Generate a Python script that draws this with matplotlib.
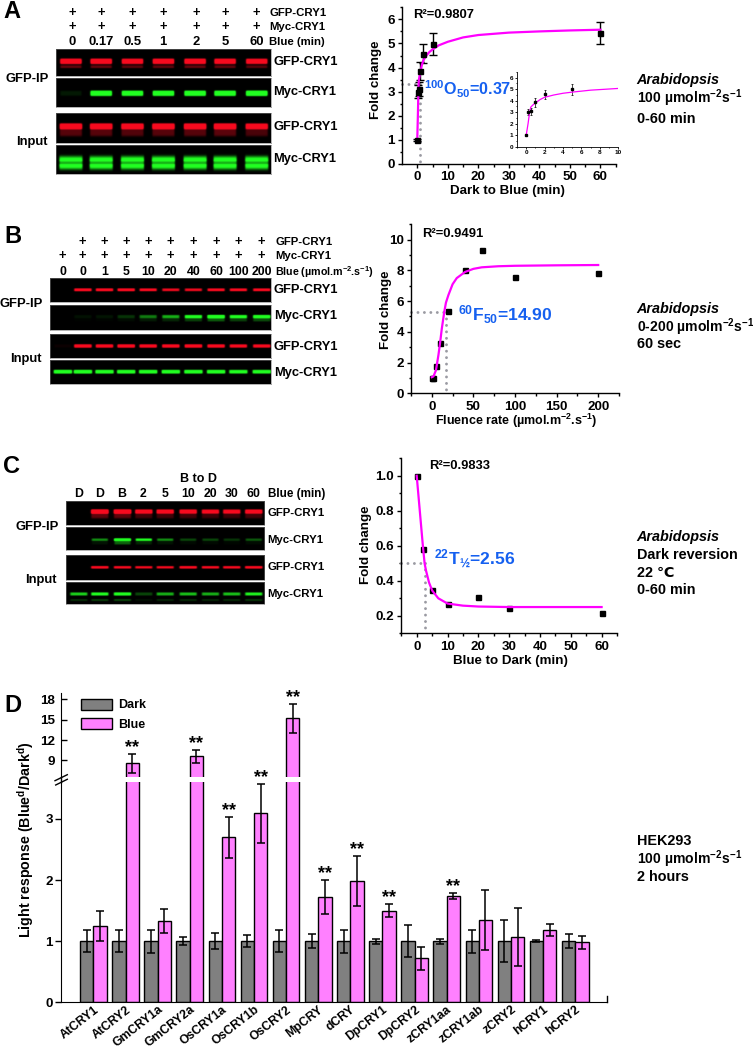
import numpy as np
import matplotlib
matplotlib.use("Agg")
import matplotlib.pyplot as plt
from matplotlib.lines import Line2D
from matplotlib.ticker import MultipleLocator

plt.rcParams['font.family'] = ['Liberation Sans', 'DejaVu Sans', 'Noto Sans CJK SC']
plt.rcParams['font.weight'] = 'bold'
plt.rcParams['axes.labelweight'] = 'bold'
plt.rcParams['mathtext.fontset'] = 'custom'
plt.rcParams['mathtext.rm'] = 'Liberation Sans:bold'
plt.rcParams['mathtext.bf'] = 'Liberation Sans:bold'
plt.rcParams['mathtext.it'] = 'Liberation Sans:italic:bold'
plt.rcParams['mathtext.default'] = 'rm'

# ---------- curve panel data ----------
a_x = [0, 0.17, 0.5, 1, 2, 5, 60]
a_y = [1.0, 3.0, 3.1, 3.87, 4.57, 4.98, 5.43]
a_err = [0.05, 0.28, 0.3, 0.38, 0.4, 0.45, 0.47]
a_fit_x = [0, 0.1, 0.2, 0.37, 0.5, 0.75, 1, 1.5, 2, 3, 4, 5, 7, 10, 15, 20, 30, 40, 50, 60]
a_fit_y = [1.0, 1.5, 2.0, 3.0, 3.45, 3.65, 3.8, 4.1, 4.3, 4.5, 4.65, 4.75, 4.92, 5.07, 5.25, 5.35, 5.45, 5.5, 5.54, 5.57]

b_x = [0, 1, 5, 10, 20, 40, 60, 100, 200]
b_y = [1.0, 1.0, 1.8, 3.3, 5.35, 8.0, 9.3, 7.55, 7.85]
b_fit_x = [0, 2, 5, 8, 10, 12, 15, 17, 20, 25, 30, 40, 50, 60, 80, 100, 150, 200]
b_fit_y = [1.05, 1.1, 1.5, 2.5, 3.3, 4.2, 5.3, 5.9, 6.4, 7.1, 7.5, 7.9, 8.1, 8.2, 8.27, 8.3, 8.33, 8.35]

c_x = [0, 2, 5, 10, 20, 30, 60]
c_y = [1.0, 0.58, 0.345, 0.27, 0.31, 0.245, 0.215]
c_fit_x = [0, 1, 2, 2.56, 3, 4, 5, 7, 10, 15, 20, 30, 60]
c_fit_y = [1.0, 0.8, 0.6, 0.5, 0.46, 0.39, 0.345, 0.3, 0.27, 0.258, 0.253, 0.25, 0.25]

# ---------- bar panel data ----------
d_names = ['AtCRY1', 'AtCRY2', 'GmCRY1a', 'GmCRY2a', 'OsCRY1a', 'OsCRY1b', 'OsCRY2', 'MpCRY',
           'dCRY', 'DpCRY1', 'DpCRY2', 'zCRY1aa', 'zCRY1ab', 'zCRY2', 'hCRY1', 'hCRY2']
d_dark = [1] * 16
d_dark_err = [0.18, 0.18, 0.19, 0.07, 0.13, 0.1, 0.18, 0.11, 0.19, 0.04, 0.26, 0.04, 0.19, 0.34, 0.02, 0.11]
d_blue = [1.25, 8.56, 1.33, 9.6, 2.7, 3.09, 15.2, 1.72, 1.99, 1.5, 0.72, 1.74, 1.34, 1.07, 1.18, 0.98]
d_blue_err = [0.25, 1.4, 0.2, 1.0, 0.34, 0.48, 2.15, 0.28, 0.41, 0.11, 0.19, 0.055, 0.49, 0.47, 0.1, 0.11]
d_sig = [1, 3, 4, 5, 6, 7, 8, 9, 11]

# ---------- blot band strengths per lane ----------
A_lanes = [70.7, 101, 132.3, 163.3, 195, 225, 256.7]
A_gfp_ip = [1, 1, .9, .95, 1, .95, .85]
A_myc_ip = [.06, 1, .9, .95, 1, 1, 1.1]
A_gfp_in = [1, 1, .95, 1, 1, 1.05, .85]
A_myc_in = [1, 1, 1, 1, 1, 1, 1]

B_lanes = [62.7, 82.7, 104.3, 126, 148, 170.7, 193.3, 216, 238.3, 261.7]
B_gfp_ip = [0, .8, .8, .8, .7, .6, .6, .7, .7, .7]
B_myc_ip = [0, .05, .06, .15, .35, .5, .85, 1.2, .85, 1]
B_gfp_in = [.03, 1, .9, 1, .9, .9, 1, .9, .8, .8]
B_myc_in = [.95, .95, .9, .9, .9, .9, .9, .9, .8, .85]

C_lanes = [78.3, 99.3, 122, 143.3, 164.7, 187.7, 210, 231.3, 253.3]
C_gfp_ip = [0, 1.3, 1.3, .9, .9, .9, .8, .8, .9]
C_myc_ip = [0, .4, 2, .8, .4, .2, .2, .15, .25]
C_gfp_in = [0, .8, .7, .6, .6, .8, .7, .7, .8]
C_myc_in = [.6, .8, .9, .2, .5, .55, .5, .55, .7]

A_top1 = ['+'] * 7
A_nums = ['0', '0.17', '0.5', '1', '2', '5', '60']
B_top1 = ['', '+', '+', '+', '+', '+', '+', '+', '+', '+']
B_top2 = ['+'] * 10
B_nums = ['0', '0', '1', '5', '10', '20', '40', '60', '100', '200']
C_nums = ['D', 'D', 'B', '2', '5', '10', '20', '30', '60']

W, H = 753, 1050
fig = plt.figure(figsize=(W / 100, H / 100), dpi=100, facecolor='white')


def px_axes(l, t, r, b, **kw):
    return fig.add_axes([l / W, 1 - b / H, (r - l) / W, (b - t) / H], **kw)


def T(x, y, s, size=9.4, ha='left', va='center', **kw):
    return fig.text(x / W, 1 - y / H, s, fontsize=size, ha=ha, va=va, fontweight=kw.pop('fontweight', 'bold'), **kw)


RED = np.array([0.97, 0.04, 0.12])
GREEN = np.array([0.13, 1.0, 0.13])


def gel(l, t, r, b, lanes, amps, color, hw, bands):
    """bands: list of (y px, half thickness px, strength)"""
    xs = np.linspace(l, r, int((r - l) * 2))
    ys = np.linspace(t, b, int((b - t) * 2))
    X, Y = np.meshgrid(xs, ys)
    I = np.zeros_like(X)
    for c, amp in zip(lanes, amps):
        box = 0.5 * (np.tanh((X - c + hw) / 0.8) - np.tanh((X - c - hw) / 0.8))
        for yc, sig, s in bands:
            I += amp * s * box * np.exp(-((Y - yc) / sig) ** 4)
    I = np.clip(I, 0, 1)
    ax = px_axes(l, t, r, b)
    ax.imshow(I[..., None] * color, extent=(l, r, b, t), aspect='auto', interpolation='bilinear')
    ax.set_xticks([]); ax.set_yticks([])
    for s in ax.spines.values():
        s.set_color('#777777'); s.set_linewidth(0.4)


# ---------- blots A ----------
gel(56, 48.7, 270.7, 76, A_lanes, A_gfp_ip, RED, 10.5, [(61.7, 2.6, 1.7), (67, 1.5, .4)])
gel(56, 77.7, 270.7, 106.7, A_lanes, A_myc_ip, GREEN, 10.5, [(93, 2.6, 1.7)])
gel(56, 113, 270.7, 143.3, A_lanes, A_gfp_in, RED, 11, [(127, 2.8, 1.7), (133, 4, .35)])
gel(56, 144.7, 270.7, 174.3, A_lanes, A_myc_in, GREEN, 11.5, [(163.3, 6.5, 1.2), (163.3, 1.6, -.5)])
# ---------- blots B ----------
gel(50, 277.7, 270.7, 302.3, B_lanes, B_gfp_ip, RED, 8.5, [(290.3, 1.5, 1.6)])
gel(50, 304.7, 270.7, 329.7, B_lanes, B_myc_ip, GREEN, 8.5, [(316.3, 1.7, 1.4), (319.5, 1.8, .3)])
gel(50, 334.3, 270.7, 358.3, B_lanes, B_gfp_in, RED, 8.5, [(346.3, 1.7, 1.6)])
gel(50, 360.3, 270.7, 384.3, B_lanes, B_myc_in, GREEN, 9, [(372, 1.9, 1.5)])
# ---------- blots C ----------
gel(65.7, 500.7, 264.3, 525.3, C_lanes, C_gfp_ip, RED, 8.5, [(512, 2.1, 1.5), (516, 3, .3)])
gel(65.7, 527.3, 264.3, 550.3, C_lanes, C_myc_ip, GREEN, 8, [(540, 1.3, 1.4), (543, 2, .2)])
gel(65.7, 555, 264.3, 580, C_lanes, C_gfp_in, RED, 8.5, [(567.3, 1.3, 1.7)])
gel(65.7, 581.7, 264.3, 604, C_lanes, C_myc_in, GREEN, 8.5, [(594.3, 1.6, 1.4), (600.3, 1.1, .3)])

# ---------- blot labels ----------
T(3, 11, 'A', size=17)
for x, s in zip([72.3, 101.3, 132.5, 163, 196, 225.7, 256.7], A_top1):
    T(x, 13.3, s, ha='center'); T(x, 26.7, s, ha='center')
for x, s in zip([72.3, 101.3, 132.5, 163, 196, 225.7, 256.7], A_nums):
    T(x, 42.3, s, ha='center')
T(269.3, 13.3, 'GFP-CRY1', size=8.2); T(269.3, 26.7, 'Myc-CRY1', size=8.2); T(269.3, 42.3, 'Blue (min)', size=8.2)
for y, s in zip([62, 91.7, 127.3, 159.3], ['GFP-CRY1', 'Myc-CRY1', 'GFP-CRY1', 'Myc-CRY1']):
    T(273, y, s, size=9.3)
T(5.7, 78.7, 'GFP-IP'); T(16, 142.3, 'Input')

T(4, 236.7, 'B', size=17)
for x, s1, s2, s3 in zip(B_lanes, B_top1, B_top2, B_nums):
    T(x, 242, s1, ha='center'); T(x, 256, s2, ha='center'); T(x, 271.7, s3, ha='center', size=8.8)
T(275.3, 242, 'GFP-CRY1', size=8.2); T(275.3, 256, 'Myc-CRY1', size=8.2)
T(275.3, 271.7, 'Blue (µmol.m$^{-2}$.s$^{-1}$)', size=7.7)
for y, s in zip([290.3, 316.3, 346.7, 372.7], ['GFP-CRY1', 'Myc-CRY1', 'GFP-CRY1', 'Myc-CRY1']):
    T(274, y, s, size=9.3)
T(0, 304, 'GFP-IP'); T(10, 359, 'Input')

T(2.7, 466.7, 'C', size=17)
T(198.3, 479.3, 'B to D', ha='center', size=9)
for x, s in zip(C_lanes, C_nums):
    T(x, 494.3, s, ha='center', size=8.8)
T(267.7, 494.3, 'Blue (min)', size=8.4)
for y, s in zip([512.7, 540, 567.3, 593.7], ['GFP-CRY1', 'Myc-CRY1', 'GFP-CRY1', 'Myc-CRY1']):
    T(267.7, y, s, size=8.2)
T(15, 526.7, 'GFP-IP'); T(25, 580, 'Input')

T(4, 705, 'D', size=17)

# ---------- side notes ----------
SX = 636.7
SZ = 10.1
T(SX, 80, 'Arabidopsis', size=10.4, style='italic')
T(SX, 98.7, '100 µmolm$^{-2}$s$^{-1}$', size=SZ); T(SX, 119.3, '0-60 min', size=10.4)
T(SX, 309, 'Arabidopsis', size=10.4, style='italic')
T(SX, 327, '0-200 µmolm$^{-2}$s$^{-1}$', size=SZ); T(SX, 344.3, '60 sec', size=10.4)
T(SX, 537.3, 'Arabidopsis', size=10.4, style='italic')
T(SX, 555.3, 'Dark reversion', size=10.4); T(SX, 573, '22 \u2103', size=10.4); T(SX, 590.3, '0-60 min', size=10.4)
T(SX, 841.3, 'HEK293', size=10.4); T(SX, 859, '100 µmolm$^{-2}$s$^{-1}$', size=SZ); T(SX, 876.7, '2 hours', size=10.4)

MAG = '#ff00ff'
DOT = '#9a9aa2'
BLUE = '#1560f0'
DOTS = dict(ls=(0, (0.01, 2.2)), color=DOT, lw=2.1, clip_on=False, dash_capstyle='round')


def style(ax, xmaj, xmin, ymaj, ymin, size=9.6, ml=3.2, mn=1.8, lw=1.0):
    for s in ['top', 'right']:
        ax.spines[s].set_visible(False)
    for s in ['left', 'bottom']:
        ax.spines[s].set_linewidth(lw)
    ax.xaxis.set_major_locator(MultipleLocator(xmaj)); ax.xaxis.set_minor_locator(MultipleLocator(xmin))
    ax.yaxis.set_major_locator(MultipleLocator(ymaj)); ax.yaxis.set_minor_locator(MultipleLocator(ymin))
    ax.tick_params(which='major', length=ml, width=lw, labelsize=size, pad=2)
    ax.tick_params(which='minor', length=mn, width=lw)
    ax.patch.set_alpha(0)


def labels(ax, xl, xc, xy, yl, yx, yc, size=9.6, xsize=None):
    ax.set_xlabel(xl, fontsize=xsize or size, va='center')
    ax.set_ylabel(yl, fontsize=size, va='center')
    ax.xaxis.set_label_coords(xc / W, 1 - xy / H, transform=fig.transFigure)
    ax.yaxis.set_label_coords(yx / W, 1 - yc / H, transform=fig.transFigure)


# ---------- A ----------
axA = px_axes(402.3, 7.3, 615.7, 164)
axA.set_xlim(-4.9, 65); axA.set_ylim(0, 6.5)
style(axA, 10, 5, 1, 0.5)
axA.plot([-4.9, 0.9], [3.3, 3.3], **DOTS)
axA.plot([0.9, 0.9], [3.3, 0], **DOTS)
axA.errorbar(a_x, a_y, yerr=a_err, fmt='s', color='k', ms=3.6, elinewidth=1, capsize=2.6, capthick=1)
axA.plot(a_fit_x, a_fit_y, color=MAG, lw=1.6)
labels(axA, 'Dark to Blue (min)', 507.3, 191, 'Fold change', 376, 79.3)
T(413.3, 15.3, 'R²=0.9807', size=9.4)
T(424, 89, '$^{100}$O$_{50}$=0.37', size=11.6, color=BLUE)

axI = px_axes(517, 72, 618.3, 146.7)
axI.set_xlim(-1, 10); axI.set_ylim(0, 6.5)
style(axI, 2, 1, 1, 0.5, size=4.6, ml=1.6, mn=1, lw=0.6)
axI.tick_params(pad=1)
axI.errorbar(a_x, a_y, yerr=a_err, fmt='s', color='k', ms=1.8, elinewidth=0.5, capsize=1, capthick=0.5)
axI.plot(a_fit_x, a_fit_y, color=MAG, lw=0.9)

# ---------- B ----------
axB = px_axes(411, 224.3, 619, 393.3)
axB.set_xlim(-25, 225); axB.set_ylim(0, 11)
style(axB, 50, 25, 2, 1)
axB.plot([-25, 16.8], [5.3, 5.3], **DOTS)
axB.plot([16.8, 16.8], [5.3, 0], **DOTS)
axB.plot(b_x, b_y, 's', color='k', ms=3.6)
axB.plot(b_fit_x, b_fit_y, color=MAG, lw=1.6)
labels(axB, 'Fluence rate (µmol.m$^{-2}$.s$^{-1}$)', 515.7, 421, 'Fold change', 385.7, 310, xsize=9.0)
T(422.3, 234.3, 'R²=0.9491', size=9.4)
T(458, 315, '$^{60}$F$_{50}$=14.90', size=12.6, color=BLUE)

# ---------- C ----------
axC = px_axes(401.3, 458.3, 617, 633.3)
axC.set_xlim(-5, 65); axC.set_ylim(0.1, 1.1)
style(axC, 10, 5, 0.2, 0.1)
axC.plot([-5, 2.56], [0.5, 0.5], **DOTS)
axC.plot([2.56, 2.56], [0.5, 0.1], **DOTS)
axC.plot(c_x, c_y, 's', color='k', ms=3.6)
axC.plot(c_fit_x, c_fit_y, color=MAG, lw=1.6)
labels(axC, 'Blue to Dark (min)', 510, 660.7, 'Fold change', 365.7, 545)
T(428.7, 465.7, 'R²=0.9833', size=9.4)
T(434, 559, '$^{22}$T$_{\u00bd}$=2.56', size=12.6, color=BLUE)

# ---------- D ----------
axU = px_axes(61.3, 692.7, 607.3, 776.7)
axL = px_axes(61.3, 781.7, 607.3, 1002.3)
idx = np.arange(16)
bw = 0.415
for ax in (axU, axL):
    ax.bar(idx - bw / 2, d_dark, bw, color='#808080', edgecolor='k', linewidth=1, label='Dark')
    ax.bar(idx + bw / 2, d_blue, bw, color='#ff80ff', edgecolor='k', linewidth=1, label='Blue')
    ax.errorbar(idx - bw / 2, d_dark, yerr=d_dark_err, fmt='none', ecolor='k', elinewidth=1.1, capsize=2.9, capthick=1.1)
    ax.errorbar(idx + bw / 2, d_blue, yerr=d_blue_err, fmt='none', ecolor='k', elinewidth=1.1, capsize=2.9, capthick=1.1)
    ax.set_xlim(-1, 16)
    for s in ['top', 'right']:
        ax.spines[s].set_visible(False)
    ax.patch.set_alpha(0)
axU.set_ylim(6.58, 19)
axL.set_ylim(0, 3.61)
axU.spines['bottom'].set_visible(False)
axU.set_xticks([])
axU.set_yticks([9, 12, 15, 18])
axU.tick_params(axis='y', direction='in', length=4.5, width=1, labelsize=9.6, pad=4.5)
axL.set_yticks([0, 1, 2, 3])
axL.tick_params(axis='y', direction='out', length=4, width=1, labelsize=9.6, pad=2)
axL.set_xticks(idx)
axL.set_xticklabels(d_names, rotation=38, ha='right', rotation_mode='anchor', fontsize=8.8)
axL.tick_params(axis='x', length=0, pad=1)

for i in d_sig:
    top = d_blue[i] + d_blue_err[i]
    ax = axU if d_blue[i] > 3.61 else axL
    ax.annotate('**', (idx[i] + bw / 2, top), xytext=(0, -1.5), textcoords='offset points', ha='center', va='bottom',
                fontsize=13, annotation_clip=False)

handles, lbls = axU.get_legend_handles_labels()
leg = axU.legend(handles, lbls, loc='upper left', bbox_to_anchor=(78.5 / W, 1 - 696 / H), bbox_transform=fig.transFigure,
                 frameon=False, fontsize=9, handlelength=2.5, handleheight=1.0, handletextpad=0.5, labelspacing=0.55,
                 borderpad=0.2, borderaxespad=0)

axL.set_ylabel('Light response (Blue$^{d}$/Dark$^{d}$)', fontsize=10.3, va='center')
axL.yaxis.set_label_coords(26 / W, 1 - 840 / H, transform=fig.transFigure)


def pxline(x0, y0, x1, y1, lw=1.0):
    fig.add_artist(Line2D([x0 / W, x1 / W], [1 - y0 / H, 1 - y1 / H], color='k', lw=lw))


pxline(55, 780.7, 67.3, 774.7)
pxline(55.7, 785, 67.3, 779.3)
pxline(607.3, 1002.3, 607.3, 996)
pxline(61.3, 776.7, 61.3, 781.7)

fig.savefig('out.png', dpi=100, facecolor='white')
